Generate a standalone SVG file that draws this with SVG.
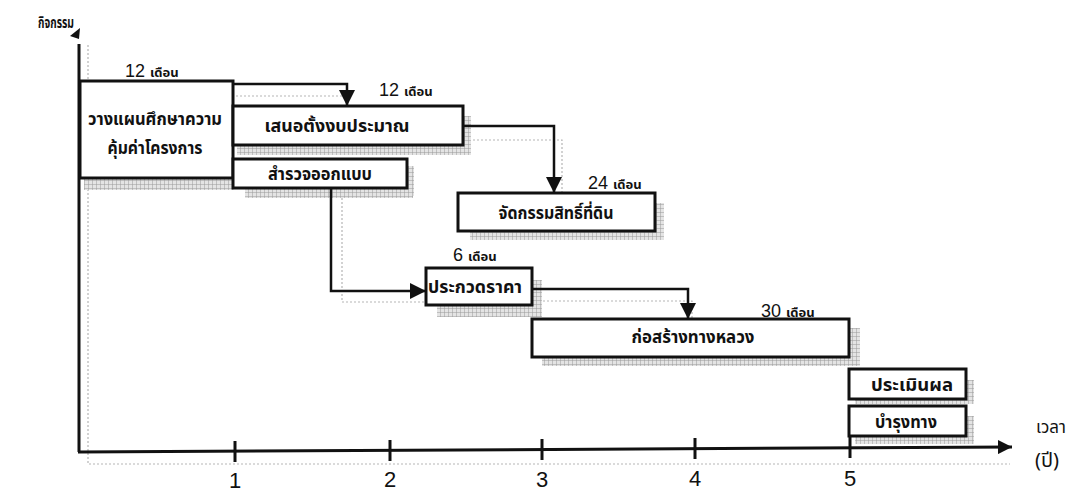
<svg xmlns="http://www.w3.org/2000/svg" width="1070" height="493" viewBox="0 0 1070 493">
<defs>
<pattern id="hatch" width="4" height="4" patternUnits="userSpaceOnUse">
<rect width="4" height="4" fill="#e4e4e4"/>
<path d="M0,0H4M0,0V4" stroke="#9a9a9a" stroke-width="1"/>
</pattern>
<marker id="arr" markerWidth="20" markerHeight="16" refX="16" refY="8" orient="auto" markerUnits="userSpaceOnUse">
<path d="M0,0 L16,8 L0,16 Z" fill="#111"/>
</marker>
<marker id="axarr" markerWidth="16" markerHeight="14" refX="14" refY="7" orient="auto" markerUnits="userSpaceOnUse">
<path d="M0,0 L14,7 L0,14 Z" fill="#111"/>
</marker>
</defs>
<style>
.box{fill:#fff;stroke:#111;stroke-width:3}
.sh{fill:url(#hatch)}
.t{font-family:"Noto Sans Thai","Tahoma","DejaVu Sans","Liberation Sans",sans-serif;font-size:17px;font-weight:bold;fill:#111;text-anchor:middle}
.d{font-family:"Liberation Sans",Arial,sans-serif;font-size:18px;fill:#111}
.ds{font-family:"Noto Sans Thai","Tahoma","DejaVu Sans","Liberation Sans",sans-serif;font-size:13px;font-weight:bold;fill:#111}
.ax{font-family:"Liberation Sans",Arial,sans-serif;font-size:22px;fill:#111;text-anchor:middle}
.ghost{fill:none;stroke:#b5b5b5;stroke-width:1.2;stroke-dasharray:2 2}
.con{fill:none;stroke:#111;stroke-width:2.5}
</style>
<rect width="1070" height="493" fill="#fff"/>

<g id="ghosts">
<path class="ghost" d="M88,45 V464 H1010"/>
<path class="ghost" d="M236,96 H352"/>
<path class="ghost" d="M465,140 H562 V192"/>
<path class="ghost" d="M342,190 V302 H424"/>
<path class="ghost" d="M535,301 H692 V318"/>
</g>

<g id="axes">
<line x1="79" y1="452" x2="79" y2="44" stroke="#111" stroke-width="3"/>
<path d="M70,36 L80,28 L79,39 Z" fill="#111"/>
<line x1="78" y1="452" x2="1012" y2="447" stroke="#111" stroke-width="3" marker-end="url(#axarr)"/>
<g stroke="#111" stroke-width="3">
<line x1="235" y1="441" x2="235" y2="462"/>
<line x1="390" y1="440" x2="390" y2="461"/>
<line x1="542" y1="439" x2="542" y2="460"/>
<line x1="695" y1="438" x2="695" y2="459"/>
<line x1="850" y1="437" x2="850" y2="458"/>
</g>
<text class="ax" x="235" y="488">1</text>
<text class="ax" x="390" y="487">2</text>
<text class="ax" x="542" y="487">3</text>
<text class="ax" x="695" y="486">4</text>
<text class="ax" x="850" y="486">5</text>
<text class="t" x="56" y="28" style="font-size:15px" textLength="36" lengthAdjust="spacingAndGlyphs">กิจกรรม</text>
<text class="t" x="1051" y="433" style="font-size:17px;font-weight:normal">เวลา</text>
<text class="t" x="1047" y="467" style="font-size:20px;font-weight:normal">(ปี)</text>
</g>

<g id="n1">
<rect class="sh" x="84" y="178" width="150" height="12"/>
<rect class="box" x="80" y="81" width="153" height="97"/>
<text class="t" x="155" y="125" textLength="134" lengthAdjust="spacingAndGlyphs">วางแผนศึกษาความ</text>
<text class="t" x="155" y="154" textLength="95" lengthAdjust="spacingAndGlyphs">คุ้มค่าโครงการ</text>
<text class="d" x="125" y="77">12 <tspan class="ds">เดือน</tspan></text>
</g>

<g id="n2">
<rect class="sh" x="237" y="145" width="234" height="10"/>
<rect class="sh" x="463" y="116" width="8" height="30"/>
<rect class="box" x="233" y="106" width="230" height="39"/>
<text class="t" x="337" y="132" textLength="145" lengthAdjust="spacingAndGlyphs">เสนอตั้งงบประมาณ</text>
<text class="d" x="379" y="96">12 <tspan class="ds">เดือน</tspan></text>
</g>

<g id="n3">
<rect class="sh" x="245" y="188" width="168" height="10"/>
<rect class="sh" x="407" y="166" width="7" height="30"/>
<rect class="box" x="233" y="159" width="174" height="29"/>
<text class="t" x="320" y="180" textLength="104" lengthAdjust="spacingAndGlyphs">สำรวจออกแบบ</text>
</g>

<g id="n4">
<rect class="sh" x="470" y="231" width="194" height="9"/>
<rect class="sh" x="655" y="203" width="9" height="36"/>
<rect class="box" x="458" y="193" width="197" height="38"/>
<text class="t" x="556" y="219" textLength="115" lengthAdjust="spacingAndGlyphs">จัดกรรมสิทธิ์ที่ดิน</text>
<text class="d" x="588" y="189">24 <tspan class="ds">เดือน</tspan></text>
</g>

<g id="n5">
<rect class="sh" x="437" y="305" width="105" height="12"/>
<rect class="sh" x="532" y="280" width="10" height="36"/>
<rect class="box" x="426" y="268" width="106" height="37"/>
<text class="t" x="475" y="293" textLength="94" lengthAdjust="spacingAndGlyphs">ประกวดราคา</text>
<text class="d" x="453" y="261">6 <tspan class="ds">เดือน</tspan></text>
</g>

<g id="n6">
<rect class="sh" x="542" y="357" width="318" height="9"/>
<rect class="sh" x="849" y="328" width="11" height="38"/>
<rect class="box" x="532" y="319" width="317" height="38"/>
<text class="t" x="693" y="343" textLength="123" lengthAdjust="spacingAndGlyphs">ก่อสร้างทางหลวง</text>
<text class="d" x="761" y="317">30 <tspan class="ds">เดือน</tspan></text>
</g>

<g id="n7">
<rect class="sh" x="855" y="399" width="118" height="5"/>
<rect class="sh" x="966" y="380" width="8" height="24"/>
<rect class="box" x="849" y="369" width="117" height="30"/>
<text class="t" x="912" y="391" textLength="82" lengthAdjust="spacingAndGlyphs">ประเมินผล</text>
</g>

<g id="n8">
<rect class="sh" x="855" y="436" width="118" height="8"/>
<rect class="sh" x="966" y="416" width="8" height="28"/>
<rect class="box" x="849" y="406" width="117" height="30"/>
<text class="t" x="906" y="428" textLength="62" lengthAdjust="spacingAndGlyphs">บำรุงทาง</text>
</g>

<g id="connectors">
<path class="con" d="M233,84 H347 V106" marker-end="url(#arr)"/>
<path class="con" d="M463,126 H554 V193" marker-end="url(#arr)"/>
<path class="con" d="M331,188 V291 H426" marker-end="url(#arr)"/>
<path class="con" d="M532,289 H688 V319" marker-end="url(#arr)"/>
</g>
</svg>
